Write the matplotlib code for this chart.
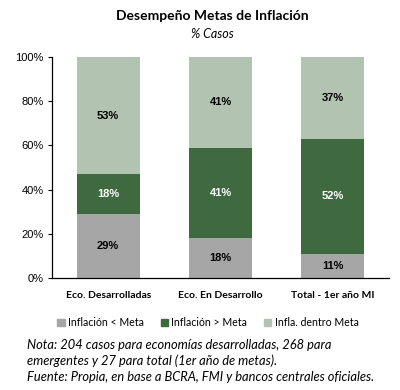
import matplotlib
matplotlib.use("Agg")
import matplotlib.pyplot as plt
import numpy as np
from matplotlib.patches import Patch
from matplotlib.ticker import FuncFormatter

categorias = ["Eco. Desarrolladas", "Eco. En Desarrollo", "Total - 1er año MI"]
bajo_meta = [29, 18, 11]
sobre_meta = [18, 41, 52]
dentro_meta = [53, 41, 37]
series = ["Inflación < Meta", "Inflación > Meta", "Infla. dentro Meta"]
colores = ["#a6a6a6", "#3f6a40", "#b3c3b1"]

fig = plt.figure(figsize=(4, 3.9), dpi=100)
ax = fig.add_axes([0.13, 0.287, 0.8425, 0.567])

x = np.arange(len(categorias))
ancho = 0.56
base = np.zeros(len(categorias))
for vals, col, nom in zip([bajo_meta, sobre_meta, dentro_meta], colores, series):
    ax.bar(x, vals, ancho, bottom=base, color=col, label=nom)
    txt_col = "white" if col == "#3f6a40" else "black"
    for xi, b, v in zip(x, base, vals):
        ax.text(xi, b + v / 2, f"{v}%", ha="center", va="center",
                fontsize=8, fontweight="bold", color=txt_col,
                family="Liberation Sans")
    base = base + np.array(vals)

ax.set_xlim(-0.5, 2.5)
ax.set_ylim(0, 100)
ax.set_yticks(range(0, 101, 20))
ax.yaxis.set_major_formatter(FuncFormatter(lambda v, p: f"{int(v)}%"))
for lab in ax.get_yticklabels():
    lab.set_family("Liberation Sans")
    lab.set_fontsize(8)
ax.tick_params(axis="y", length=3, width=0.8, pad=3)
ax.set_xticks(x)
ax.set_xticklabels(categorias, fontsize=7.5, fontweight="bold", family="Lato")
ax.tick_params(axis="x", length=0, pad=9)
for s in ["top", "right"]:
    ax.spines[s].set_visible(False)
ax.spines["left"].set_linewidth(0.9)
ax.spines["bottom"].set_linewidth(0.9)

fig.text(0.53, 0.958, "Desempeño Metas de Inflación", ha="center", va="center",
         fontsize=10, fontweight="bold", family="Lato")
fig.text(0.53, 0.912, "% Casos", ha="center", va="center",
         fontsize=9, style="italic", family="Lato")

handles = [Patch(color=c, label=n) for c, n in zip(colores, series)]
fig.legend(handles=handles, loc="center", bbox_to_anchor=(0.52, 0.173), ncol=3,
           frameon=False, prop={"family": "Lato", "size": 7.6},
           handlelength=0.7, handleheight=0.7, handletextpad=0.3, columnspacing=1.6)

nota = ("Nota: 204 casos para economías desarrolladas, 268 para\n"
        "emergentes y 27 para total (1er año de metas).\n"
        "Fuente: Propia, en base a BCRA, FMI y bancos centrales oficiales.")
fig.text(0.068, 0.132, nota, ha="left", va="top", fontsize=9.3,
         style="italic", family="Lato", linespacing=1.4)

fig.savefig("out.png", dpi=100)
